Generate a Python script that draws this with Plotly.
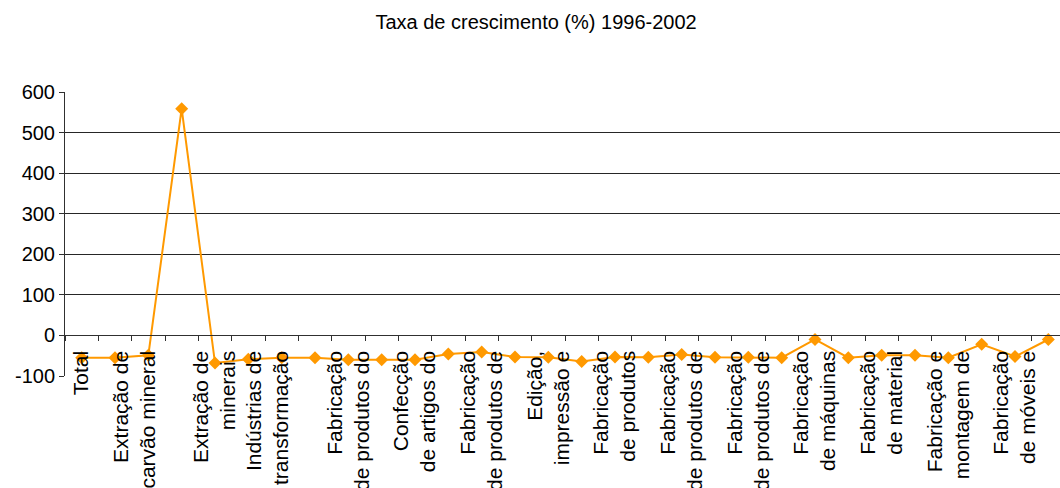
import plotly.graph_objects as go

# Industry divisions (CNAE), in chart order
categories = [
    "Total",
    "Indústrias extrativas",
    "Extração de carvão mineral",
    "Extração de petróleo e serviços relacionados",
    "Extração de minerais metálicos",
    "Extração de minerais não-metálicos",
    "Indústrias de transformação",
    "Fabricação de produtos alimentícios e bebidas",
    "Fabricação de produtos do fumo",
    "Fabricação de produtos têxteis",
    "Confecção de artigos do vestuário e acessórios",
    "Preparação de couros e fabricação de artefatos de couro",
    "Fabricação de produtos de madeira",
    "Fabricação de celulose, papel e produtos de papel",
    "Edição, impressão e reprodução de gravações",
    "Fabricação de coque, refino de petróleo e álcool",
    "Fabricação de produtos químicos",
    "Fabricação de artigos de borracha e plástico",
    "Fabricação de produtos de minerais não-metálicos",
    "Metalurgia básica",
    "Fabricação de produtos de metal",
    "Fabricação de máquinas e equipamentos",
    "Fabricação de máquinas para escritório e informática",
    "Fabricação de máquinas, aparelhos e materiais elétricos",
    "Fabricação de material eletrônico e de comunicações",
    "Fabricação de equipamentos de instrumentação",
    "Fabricação e montagem de veículos automotores",
    "Fabricação de outros equipamentos de transporte",
    "Fabricação de móveis e indústrias diversas",
    "Reciclagem",
]

# Growth rate (%) 1996-2002
growth = [
    -55, -55, -49, 559, -68, -59, -55, -55, -60, -60,
    -60, -46, -41, -53, -54, -64, -53, -54, -47, -54,
    -54, -55, -10, -55, -49, -49, -55, -22, -52, -10,
]

# Category-axis labels (every second category, wrapped as shown on the axis);
# two of them carry a third, empty line
label_positions = [0, 2, 4, 6, 8, 10, 12, 14, 16, 18, 20, 22, 24, 26, 28]
label_text = [
    "Total",
    "Extração de<br>carvão mineral<br>\u00a0",
    "Extração de<br>minerais",
    "Indústrias de<br>transformação<br>\u00a0",
    "Fabricação<br>de produtos do",
    "Confecção<br>de artigos do",
    "Fabricação<br>de produtos de",
    "Edição,<br>impressão e",
    "Fabricação<br>de produtos",
    "Fabricação<br>de produtos de",
    "Fabricação<br>de produtos de",
    "Fabricação<br>de máquinas",
    "Fabricação<br>de material",
    "Fabricação e<br>montagem de",
    "Fabricação<br>de móveis e",
]

y_ticks = [-100, 0, 100, 200, 300, 400, 500, 600]
y_tick_text = ["-100", "0", "100", "200", "300", "400", "500", "600"]

ORANGE = "#FF9900"
FONT = "Liberation Sans, Arial, sans-serif"

x_index = list(range(len(categories)))

fig = go.Figure(
    go.Scatter(
        x=x_index,
        y=growth,
        mode="lines+markers",
        line=dict(color=ORANGE, width=2),
        marker=dict(symbol="diamond", size=10, color=ORANGE),
        customdata=categories,
        hovertemplate="%{customdata}<br>%{y}%<extra></extra>",
    )
)

y_min, y_max = -100, 600

fig.update_layout(
    width=1060,
    height=488,
    margin=dict(l=65, r=0, t=92, b=112, autoexpand=False),
    paper_bgcolor="white",
    plot_bgcolor="white",
    showlegend=False,
    font=dict(family=FONT, color="black"),
    title=dict(
        text="Taxa de crescimento (%) 1996-2002",
        font=dict(family=FONT, size=20, color="black"),
        x=0.5057,
        xanchor="center",
        xref="container",
        y=0.955,
        yanchor="middle",
        yref="container",
        automargin=False,
    ),
    xaxis=dict(
        range=[-0.5, 29.35],
        anchor="free",
        # category axis crosses the value axis at 0
        position=(0 - y_min) / (y_max - y_min),
        automargin=False,
        showline=True,
        linecolor="#303030",
        linewidth=1,
        showgrid=False,
        zeroline=False,
        tickmode="array",
        tickvals=label_positions,
        ticktext=label_text,
        tickangle=-90,
        ticks="outside",
        ticklen=6,
        tickcolor="rgba(0,0,0,0)",
        tickfont=dict(family=FONT, size=21, color="black"),
        minor=dict(
            tickmode="linear",
            tick0=-0.5,
            dtick=1,
            ticks="outside",
            ticklen=5,
            tickwidth=1,
            tickcolor="#303030",
            showgrid=False,
        ),
    ),
    yaxis=dict(
        range=[y_min, y_max],
        automargin=False,
        showline=True,
        linecolor="#303030",
        linewidth=1,
        showgrid=True,
        gridcolor="#262626",
        gridwidth=1,
        zeroline=False,
        tickmode="array",
        tickvals=y_ticks,
        ticktext=y_tick_text,
        ticks="outside",
        ticklen=5,
        tickcolor="#303030",
        tickfont=dict(family=FONT, size=20, color="black"),
    ),
)

fig.write_html("out.html")
